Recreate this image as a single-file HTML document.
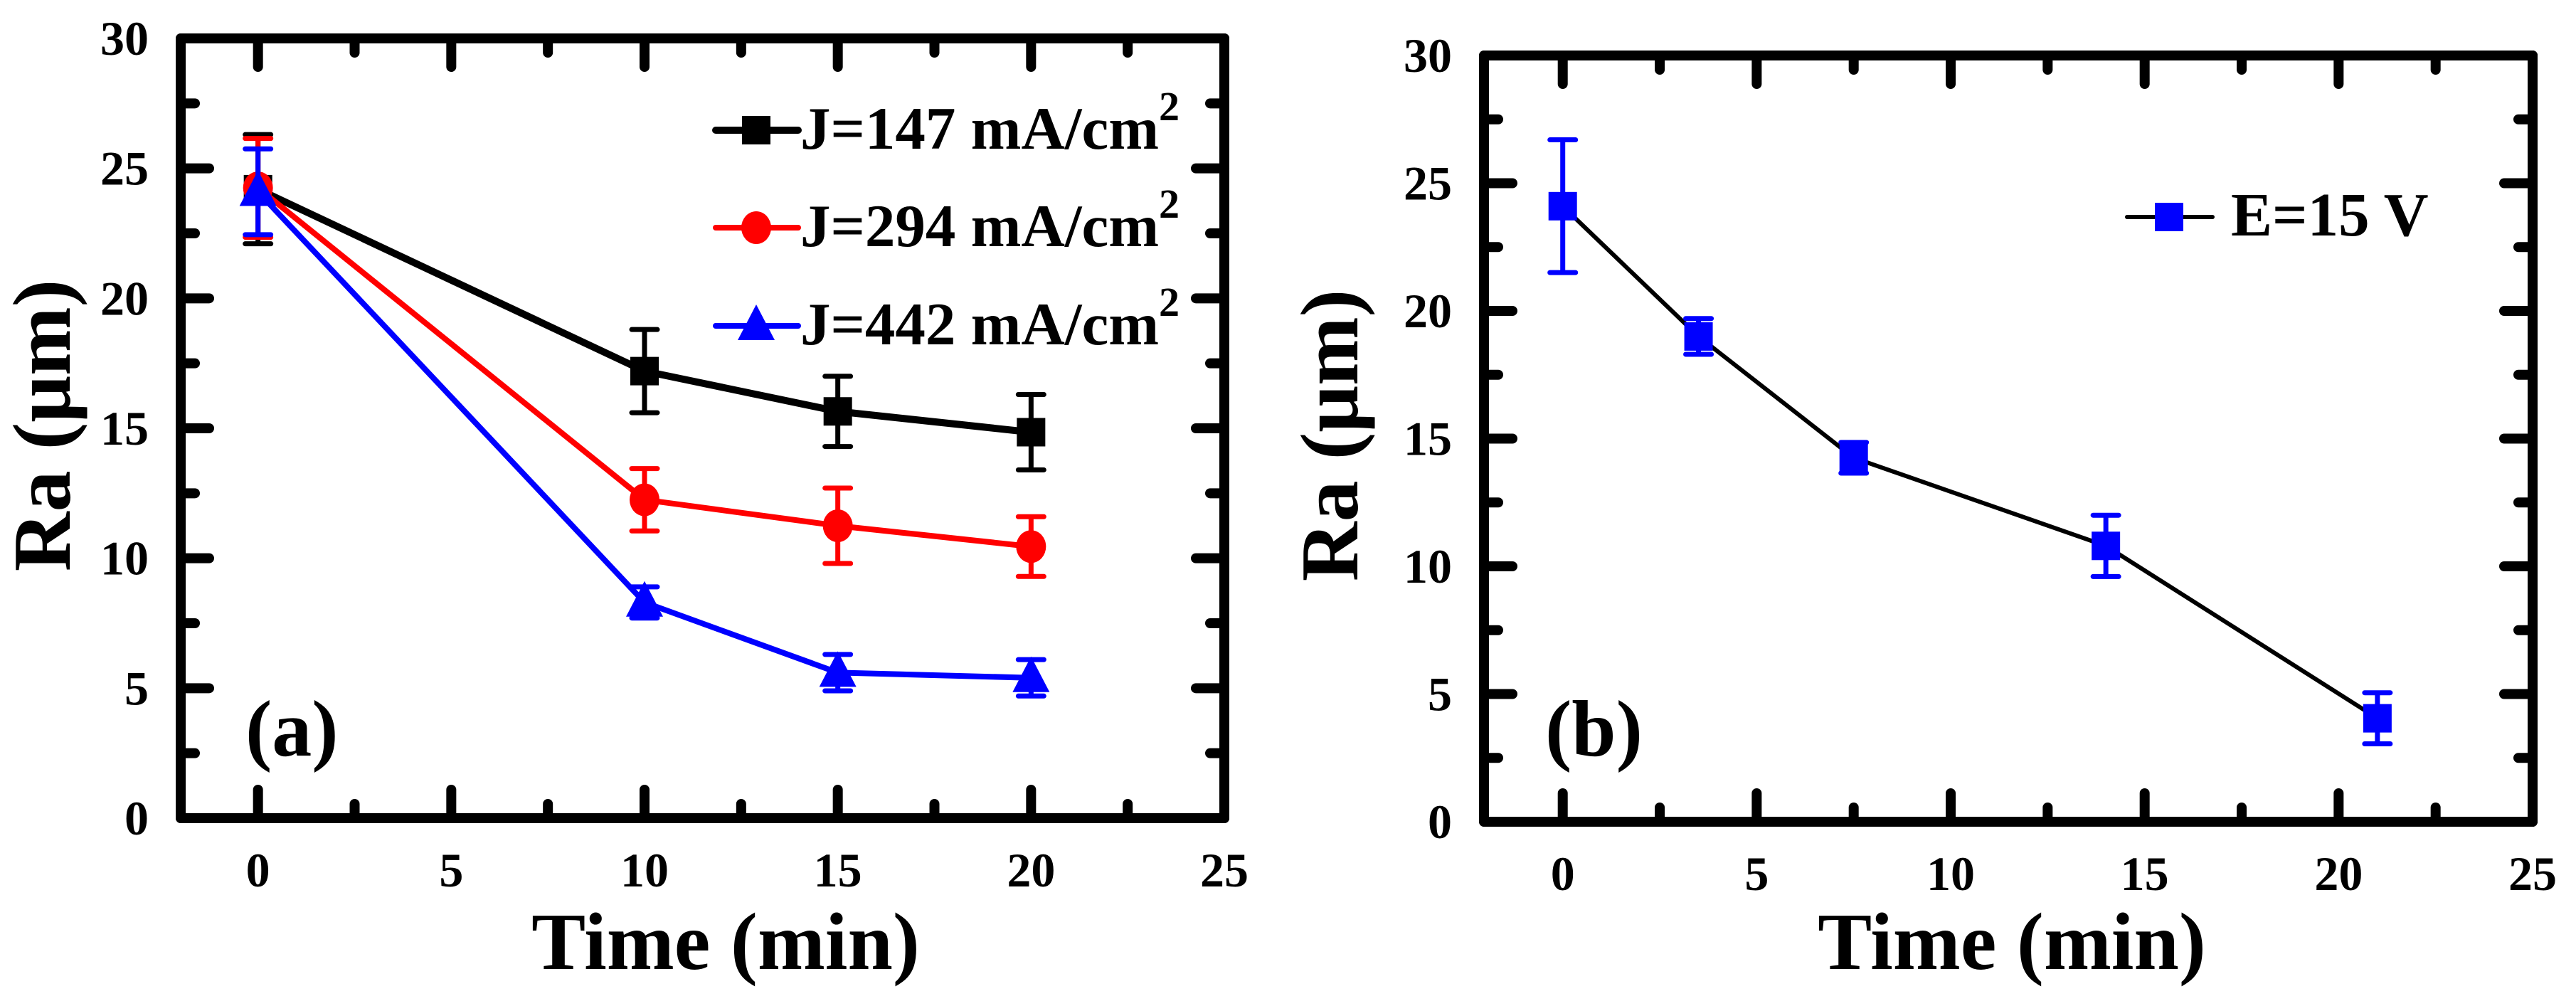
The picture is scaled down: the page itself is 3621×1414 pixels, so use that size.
<!DOCTYPE html>
<html><head><meta charset="utf-8"><style>
html,body{margin:0;padding:0;background:#fff;}
svg{display:block;}
svg text{font-family:"Liberation Serif","Times New Roman",serif;font-weight:bold;fill:#000;}
</style></head>
<body>
<svg id="fig" width="3621" height="1414" viewBox="0 0 3621 1414" xmlns="http://www.w3.org/2000/svg" font-family="Liberation Serif, Times New Roman, serif" font-weight="bold"></svg>
<script>
// Panel (a) data
const aTimes = [0, 10, 15, 20];
const aJ147 = [24.2, 17.2, 15.65, 14.85];
const aJ147Err = [2.1, 1.6, 1.35, 1.45];
const aJ294 = [24.25, 12.25, 11.25, 10.45];
const aJ294Err = [1.9, 1.2, 1.45, 1.15];
const aJ442 = [24.1, 8.3, 5.6, 5.4];
const aJ442Err = [1.65, 0.6, 0.7, 0.7];
// Panel (b) data
const bTimes = [0, 3.5, 7.5, 14, 21];
const bE15 = [24.1, 19.0, 14.25, 10.8, 4.05];
const bE15Err = [2.6, 0.7, 0.6, 1.2, 1.0];
// Ticks
const xTickLabels = ['0','5','10','15','20','25'];
const yTickLabels = ['0','5','10','15','20','25','30'];

const NS='http://www.w3.org/2000/svg';
const svg=document.getElementById('fig');
const FONT='"Liberation Serif", "Times New Roman", serif';
function mk(tag,attrs,parent){const e=document.createElementNS(NS,tag);for(const k in attrs)e.setAttribute(k,attrs[k]);if(tag==='text'){e.setAttribute('font-family',FONT);e.setAttribute('font-weight','bold');}(parent||svg).appendChild(e);return e;}

function makePanel(p){
  const g=mk('g',{});
  
  
  const sx=v=>p.x0+(v-p.xmin)/(p.xmax-p.xmin)*(p.x1-p.x0);
  const sy=v=>p.y1-(v-0)/30*(p.y1-p.y0);
  const tg=mk('g',{stroke:'#000','stroke-width':14,'stroke-linecap':'round'},g);
  
  
  for(let v=0;v<=25;v+=2.5){
    const X=sx(v),L=(v%5===0)?40:20;
    mk('line',{x1:X,y1:p.y1,x2:X,y2:p.y1-L},tg);
    mk('line',{x1:X,y1:p.y0,x2:X,y2:p.y0+L},tg);
  }
  for(let v=0;v<=30;v+=2.5){
    const Y=sy(v),L=(v%5===0)?40:20;
    mk('line',{x1:p.x0,y1:Y,x2:p.x0+L,y2:Y},tg);
    mk('line',{x1:p.x1,y1:Y,x2:p.x1-L,y2:Y},tg);
  }
  const fr=mk('rect',{x:p.x0,y:p.y0,width:p.x1-p.x0,height:p.y1-p.y0,fill:'none',stroke:'#000','stroke-width':14,'stroke-linejoin':'round'},g);
  
  
  xTickLabels.forEach((t,i)=>{
    const e=mk('text',{x:sx(+t),y:p.y1+96,'font-size':68,'text-anchor':'middle'},g);
    
    
    e.textContent=t;
  });
  yTickLabels.forEach((t,i)=>{
    const e=mk('text',{x:p.x0-45,y:sy(+t)+23,'font-size':68,'text-anchor':'end'},g);
    
    
    e.textContent=t;
  });
  const xt=mk('text',{x:p.xtx,y:1362,'font-size':114,'text-anchor':'middle'},g);
  
  
  xt.textContent='Time (min)';
  const yt=mk('text',{x:0,y:0,'font-size':116,'text-anchor':'middle',transform:`translate(${p.ytx},${p.yty}) rotate(-90)`},g);
  
  
  yt.textContent='Ra (\u03bcm)';
  const pl=mk('text',{x:p.plx,y:1062,'font-size':112},g);
  
  
  pl.textContent=p.label;
  return {g,sx,sy};
}

function marker(g,type,cx,cy,color){
  let e;
  if(type==='square') e=mk('rect',{x:cx-20,y:cy-20,width:40,height:40,fill:color},g);
  else if(type==='circle') e=mk('ellipse',{cx:cx,cy:cy,rx:21,ry:23,fill:color},g);
  else e=mk('polygon',{points:`${cx},${cy-30} ${cx+26},${cy+20} ${cx-26},${cy+20}`,fill:color},g);
  return e;
}

function series(P,name,xs,ys,errs,color,lineColor,lw,type){
  const g=mk('g',{},P.g);
  
  
  const pts=xs.map((x,i)=>P.sx(x)+','+P.sy(ys[i])).join(' ');
  const ln=mk('polyline',{points:pts,fill:'none',stroke:lineColor,'stroke-width':lw,'stroke-linejoin':'round'},g);
  
  
  xs.forEach((x,i)=>{
    const X=P.sx(x),Yt=P.sy(ys[i]+errs[i]),Yb=P.sy(ys[i]-errs[i]);
    const eb=mk('path',{d:`M${X},${Yt}V${Yb}M${X-18},${Yt}H${X+18}M${X-18},${Yb}H${X+18}`,stroke:color,'stroke-width':7,'stroke-linecap':'round',fill:'none'},g);
    
    
    const m=marker(g,type,X,P.sy(ys[i]),color);
    
    
  });
}

function legendEntry(g,x1,x2,mx,y,color,lineColor,lw,type,tx,fs,label,sup){
  const lg=mk('g',{},g);
  
  
  mk('line',{x1:x1,y1:y,x2:x2,y2:y,stroke:lineColor,'stroke-width':lw,'stroke-linecap':'round'},lg);
  marker(lg,type,mx,y,color);
  const t=mk('text',{x:tx,y:y+26,'font-size':fs},lg);
  t.textContent=label;
  if(sup){const s=document.createElementNS(NS,'tspan');s.setAttribute('dy',-40);s.setAttribute('font-size',58);s.textContent=sup;t.appendChild(s);}
}

const A=makePanel({name:'panel-a',x0:254,x1:1721,y0:54,y1:1150,xmin:-2,xmax:25,xtx:1020,ytx:98,yty:598,plx:345,label:'(a)'});
series(A,'series-j147',aTimes,aJ147,aJ147Err,'#000','#000',10,'square');
series(A,'series-j294',aTimes,aJ294,aJ294Err,'#ff0000','#ff0000',8,'circle');
series(A,'series-j442',aTimes,aJ442,aJ442Err,'#0000ff','#0000ff',8,'triangle');
const legA=mk('g',{},A.g);


legendEntry(legA,1006,1122,1063,183,'#000','#000',10,'square',1125,85,'J=147 mA/cm','2');
legendEntry(legA,1006,1122,1063,320,'#ff0000','#ff0000',8,'circle',1125,85,'J=294 mA/cm','2');
legendEntry(legA,1006,1122,1063,458,'#0000ff','#0000ff',8,'triangle',1125,85,'J=442 mA/cm','2');

const B=makePanel({name:'panel-b',x0:2086,x1:3560,y0:78,y1:1155,xmin:-2.03,xmax:25,xtx:2828,ytx:1908,yty:612,plx:2172,label:'(b)'});
series(B,'series-e15',bTimes,bE15,bE15Err,'#0000ff','#000',6,'square');
const legB=mk('g',{},B.g);


legendEntry(legB,2990,3110,3049,305,'#0000ff','#000',6,'square',3136,87,'E=15 V',null);
</script>
</body></html>
